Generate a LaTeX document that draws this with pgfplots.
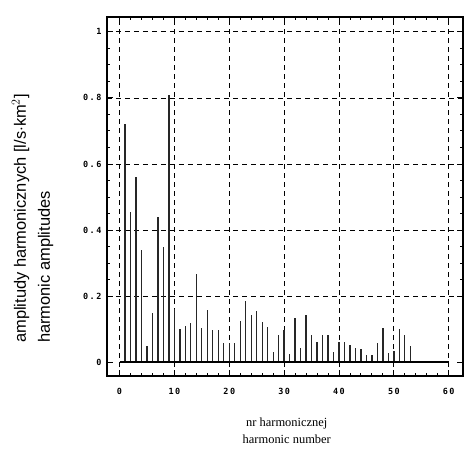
\documentclass[border=0pt]{standalone}
\usepackage{fontspec}
\setmainfont{Liberation Serif}
\setsansfont{Liberation Sans}
\setmonofont{DejaVu Sans Mono}
\newfontfamily\tickfont[LetterSpace=18]{DejaVu Sans Mono Bold}
\usepackage{pgfplots}
\pgfplotsset{compat=1.18}

% harmonic number, amplitude
\pgfplotstableread{
n  a
1  0.72
2  0.455
3  0.56
4  0.34
5  0.05
6  0.148
7  0.44
8  0.35
9  0.81
10 0.16
11 0.10
12 0.108
13 0.118
14 0.268
15 0.104
16 0.157
17 0.098
18 0.096
19 0.058
20 0.058
21 0.058
22 0.126
23 0.186
24 0.143
25 0.156
26 0.123
27 0.105
28 0.032
29 0.083
30 0.097
31 0.024
32 0.135
33 0.044
34 0.142
35 0.082
36 0.062
37 0.082
38 0.082
39 0.031
40 0.062
41 0.062
42 0.052
43 0.043
44 0.041
45 0.021
46 0.021
47 0.057
48 0.102
49 0.028
50 0.033
51 0.10
52 0.081
53 0.048
}\harm

\begin{document}
\begin{tikzpicture}
\begin{axis}[
  scale only axis,
  width=356bp, height=359bp,
  xmin=-2.28, xmax=62.6,
  ymin=-0.042, ymax=1.045,
  xtick={0,10,...,60},
  ytick={0.2,0.4,0.6,0.8,1},
  extra y ticks={0},
  extra y tick style={grid=none},
  minor x tick num=4,
  minor y tick num=3,
  tick align=inside,
  major tick length=6bp,
  minor tick length=3.5bp,
  every tick/.style={black, line width=0.9bp},
  axis line style={line width=1.4bp},
  grid=major,
  major grid style={black, line width=0.8bp, dash pattern=on 5bp off 4bp},
  /pgf/number format/assume math mode=true,
  ticklabel style={font=\tickfont\fontsize{8.5}{9}\selectfont},
  yticklabel style={xshift=-2bp},
  xticklabel style={yshift=-9bp},
  xlabel={nr harmonicznej\\harmonic number},
  xlabel style={font=\rmfamily\fontsize{12.5}{17}\selectfont, align=center,
                at={(axis description cs:0.505,-0.153)}, anchor=center},
  ylabel={amplitudy harmonicznych [l/s$\cdot$km$^2$]\\harmonic amplitudes},
  ylabel style={font=\sffamily\fontsize{16.5}{24}\selectfont, align=left,
                at={(axis description cs:-0.209,0.092)}, anchor=west, inner sep=0pt},
]
  \addplot[ycomb, black!85, line width=1.3bp, mark=none] table[x=n, y=a] {\harm};
  \addplot[black, line width=1.3bp, mark=none] coordinates {(0,0) (60,0)};
\end{axis}
\pgfresetboundingbox
\path[use as bounding box] (-107bp,-76bp) rectangle (358bp,376bp);
\end{tikzpicture}
\end{document}
